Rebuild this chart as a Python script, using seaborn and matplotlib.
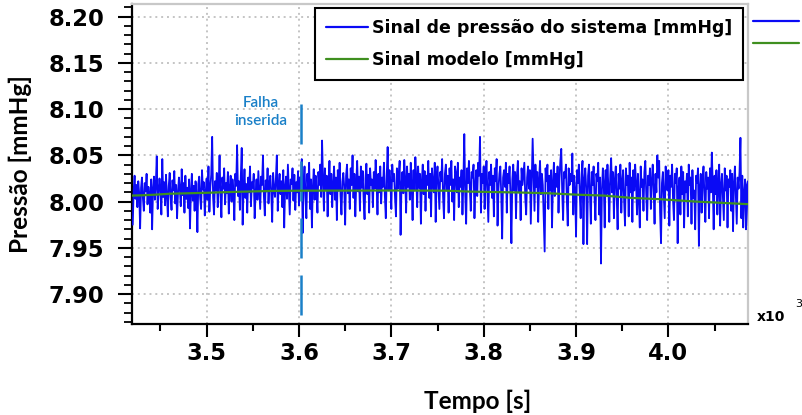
import numpy as np
import pandas as pd
import matplotlib
matplotlib.use("Agg")
import matplotlib.pyplot as plt
import seaborn as sns
from matplotlib.ticker import MultipleLocator, FormatStrFormatter
from matplotlib.lines import Line2D

# Measured pressure: deviation from 8.000 mmHg in thousandths of mmHg,
# sampled every 1 s starting at t = 3420 s
inicio_s = 3420.0
passo_s = 1.0
desvio_milesimos = [
    -25, 12, 28, 3, 18, -6, 22, 9, -29, 15, 26, 4, -10, 20, 11, 30, -3, 16, 7, -12,
    24, -30, 14, 27, 2, 19, 49, -8, 10, 25, 13, -14, 46, 5, 21, -4, 29, 8, -16, 17,
    31, 6, -9, 23, 12, 33, -2, 18, -18, 9, 26, 14, -5, 35, 7, 20, -12, 28, 3, 15,
    -7, 24, -29, 11, 30, 1, 17, -10, 22, 8, -33, 19, 27, 4, -8, 34, 13, 21, -15, 10,
    25, 2, 38, -11, 16, 29, 70, 5, -14, 22, 12, 31, -6, 18, 50, 8, -17, 26, 14, 36,
    -3, 20, 9, 32, -13, 15, 28, 0, 24, 11, -20, 30, 17, 61, 6, 22, -9, 27, 58, -25,
    13, 35, 4, 19, -12, 26, 10, 38, -5, 21, 15, 30, -18, 8, 24, 2, 33, 12, -8, 27,
    18, 50, 6, -15, 23, 11, 36, -2, 20, 28, 9, -22, 31, 14, 5, 25, 50, -10, 17, 30,
    8, 22, -6, 34, -28, 16, 27, 3, 40, 12, -14, 24, 19, 36, 1, 29, -9, 21, 10, 33,
    -4, 26, 14, 46, -34, 20, 38, 7, -18, 30, 12, 42, -8, 24, -28, 16, 35, 2, 28, 11,
    -12, 32, 18, 40, 5, 66, 24, -10, 36, 13, 28, -16, 21, 44, 8, 30, -6, 19, 38, 2,
    26, -20, 34, 12, 42, 6, -14, 22, 31, 16, -25, 28, 40, 9, 24, -8, 36, 18, 50, 4,
    30, -16, 20, 44, 11, 27, -10, 38, 15, 33, 2, -19, 25, 41, 8, 29, -12, 36, 18, 24,
    -6, 32, 14, 45, 21, -14, 30, 10, 38, -2, 26, 16, 42, 6, -18, 28, 59, 12, 34, 20,
    -8, 40, 22, 30, 4, -16, 36, 14, 27, 44, -36, 18, 32, 9, 45, 24, -12, 38, 16, 30,
    2, 42, 20, -20, 34, 12, 48, 26, -6, 38, 15, 30, -24, 22, 40, 8, 33, -10, 28, 18,
    44, 4, 30, -16, 36, 20, 10, 42, -22, 26, 38, 14, -8, 32, 22, 46, 6, -18, 30, 40,
    12, 28, -12, 36, 18, 44, 0, 24, -20, 38, 30, 10, 42, -6, 26, 16, 34, -14, 22, 73,
    8, -24, 36, 20, 44, 14, -10, 32, 26, 40, -18, 18, 34, 6, 42, 28, 70, -12, 30, 20,
    38, -8, 24, 44, 12, -22, 32, 18, 40, 4, 28, -16, 36, 22, 46, -26, 14, 30, 38, 8,
    -40, 26, 34, 16, 42, -12, 30, 20, 38, 6, -45, 24, 40, 12, 32, -18, 28, 44, 10, 22,
    -20, 36, 18, 30, 42, 4, -14, 26, 38, 14, 34, -24, 20, 68, 28, -10, 40, 16, 32, -22,
    24, 44, 8, 30, 18, -16, -54, 36, 22, 40, -8, 28, 12, 34, -28, 20, 42, 6, 30, 16,
    38, -12, 24, 44, 57, 10, -20, 32, 26, 40, 2, -26, 36, 18, 30, 22, 52, -14, 28, 12,
    -38, 34, 20, 40, 8, -18, 30, 44, -46, 24, 36, 14, -46, 28, 40, 10, -24, 32, 18, 38,
    4, -20, 30, 22, 42, -14, 26, -67, 12, 36, 20, -28, 34, 8, 40, 16, -22, 28, 47, 10,
    32, -18, 24, 38, 6, -30, 30, 14, 40, -12, 22, 34, 2, -26, 36, 18, 28, -16, 42, 10,
    26, -22, 34, 12, 40, 20, -14, 30, 4, -28, 38, 16, 24, -10, 32, 44, 8, -20, 28, 18,
    36, -8, 22, 40, 14, -24, 30, 10, 50, 26, 44, -12, -45, 20, 32, 6, -18, 38, 24, 12,
    34, -26, 28, 16, 40, 2, -20, 30, 20, 36, -45, 14, 26, -14, 38, 8, 32, -28, 22, 10,
    30, -16, 40, 18, 26, -24, 34, 4, 12, -30, 28, 20, 36, -48, 16, 30, -12, 24, 38, 6,
    -22, 32, 14, 26, -18, 36, 10, 53, 20, -30, 28, 8, 34, -14, 22, 40, -26, 18, 30, 4,
    -20, 36, 12, 28, -28, 24, 16, 34, -10, 30, -32, 20, 38, 6, -24, 26, 14, 32, 69, -18,
    28, -28, 10, 24, -30, 18, 22, -26,
]

# Model signal breakpoints
tempo_modelo_s = [3419.2, 3430, 3445, 3460, 3480, 3500, 3530, 3570, 3600, 3700,
                  3760, 3785, 3840, 3870, 3900, 3930, 3960, 3990, 4030, 4086.5]
pressao_modelo = [8.0065, 8.0068, 8.0075, 8.0085, 8.0090, 8.0095, 8.0105, 8.0115,
                  8.0118, 8.0120, 8.0118, 8.0108, 8.0098, 8.0090, 8.0075, 8.0065,
                  8.0040, 8.0026, 8.0000, 7.9972]

# Inserted fault marker
tempo_falha_s = 3602.0
falha_topo = 8.106
falha_base = 7.868
texto_falha = "Falha\ninserida"

rotulo_sinal = "Sinal de pressão do sistema [mmHg]"
rotulo_modelo = "Sinal modelo [mmHg]"
rotulo_x = "Tempo [s]"
rotulo_y = "Pressão [mmHg]"

azul = "#0a0af5"
verde = "#3f8f1f"
azul_falha = "#1a80c8"

t_sinal = (inicio_s + passo_s * np.arange(len(desvio_milesimos))) / 1000.0
p_sinal = 8.0 + np.array(desvio_milesimos) / 1000.0
df_sinal = pd.DataFrame({"t": t_sinal, "p": p_sinal})
df_modelo = pd.DataFrame({"t": np.array(tempo_modelo_s) / 1000.0, "p": pressao_modelo})

sns.set_theme(style="white")
plt.rcParams["font.family"] = ["DejaVu Sans"]

W, H = 803, 415
fig = plt.figure(figsize=(W / 100, H / 100), dpi=100)
L, R, B, T = 132, 748.3, 324, 4
ax = fig.add_axes([L / W, 1 - B / H, (R - L) / W, (B - T) / H])

sns.lineplot(data=df_sinal, x="t", y="p", ax=ax, color=azul, lw=1.3,
             estimator=None, sort=False, zorder=3)
ax.plot([tempo_falha_s / 1000.0] * 2, [falha_topo, falha_base], color=azul_falha,
        lw=1.8, linestyle=(0, (16, 6.8)), zorder=4)
sns.lineplot(data=df_modelo, x="t", y="p", ax=ax, color=verde, lw=1.6,
             estimator=None, sort=False, zorder=5)

ax.set_xlim(3.4192, 4.0865)
ax.set_ylim(7.8676, 8.2137)

ax.xaxis.set_major_locator(MultipleLocator(0.1))
ax.xaxis.set_minor_locator(MultipleLocator(0.05))
ax.xaxis.set_major_formatter(FormatStrFormatter("%.1f"))
ax.yaxis.set_major_locator(MultipleLocator(0.05))
ax.yaxis.set_minor_locator(MultipleLocator(0.01))
ax.yaxis.set_major_formatter(FormatStrFormatter("%.2f"))

ax.grid(True, which="major", color="#c4c4c4", lw=1.4, linestyle=(0, (1, 2)))
ax.set_axisbelow(True)

for s in ("left", "bottom"):
    ax.spines[s].set_color("black")
    ax.spines[s].set_linewidth(1.6)
for s in ("top", "right"):
    ax.spines[s].set_color("#c8c8c8")
    ax.spines[s].set_linewidth(1.6)

ax.tick_params(axis="both", which="major", direction="out", color="black",
               width=1.5, labelsize=16.3, labelcolor="black")
ax.tick_params(axis="x", which="major", length=9.4, pad=3.5, bottom=True)
ax.tick_params(axis="x", which="minor", length=5, width=1.5, bottom=True, color="black")
ax.tick_params(axis="y", which="major", length=10, pad=10, left=True)
ax.tick_params(axis="y", which="minor", length=5.5, width=1.3, left=True, color="black")
for lab in ax.get_xticklabels() + ax.get_yticklabels():
    lab.set_fontweight("bold")

lbl_font = dict(family=["Lato", "DejaVu Sans"], weight="bold", size=17.5, color="black")
ax.set_xlabel(rotulo_x, **lbl_font)
ax.set_ylabel(rotulo_y, **lbl_font)
ax.xaxis.set_label_coords((477.5 - L) / (R - L), -0.205)
ax.yaxis.set_label_coords(-0.163, 0.5)

ax.text(3.5585, 8.097, texto_falha, ha="center", va="center", color=azul_falha,
        fontsize=11, family=["Lato", "DejaVu Sans"], weight="semibold",
        linespacing=1.3, zorder=6)

# Main legend
h_sinal = Line2D([], [], color=azul, lw=1.6)
h_modelo = Line2D([], [], color=verde, lw=1.6)
leg = ax.legend([h_sinal, h_modelo], [rotulo_sinal, rotulo_modelo],
                loc="upper left", bbox_to_anchor=(315 / W, 1 - 8 / H),
                bbox_transform=fig.transFigure, borderaxespad=0, frameon=True,
                fancybox=False, framealpha=1, edgecolor="black",
                handlelength=2.46, handletextpad=0.2, borderpad=0.62,
                labelspacing=0.82, prop=dict(family="DejaVu Sans", weight="bold", size=12.5))
leg.get_frame().set_linewidth(1.5)
for t in leg.get_texts():
    t.set_color("black")
leg.set_zorder(10)
ax.add_artist(leg)

# Line keys repeated beside the plot area
leg2 = ax.legend([Line2D([], [], color=azul, lw=1.6), Line2D([], [], color=verde, lw=1.6)],
                 ["", ""], loc="upper left", bbox_to_anchor=(753 / W, 1 - 15 / H),
                 bbox_transform=fig.transFigure, borderaxespad=0, frameon=False,
                 handlelength=3.3, handletextpad=0, borderpad=0, labelspacing=0.55,
                 prop=dict(size=10))

fig.text(757 / W, 1 - 317 / H, "x10", ha="left", va="center", fontsize=10,
         fontweight="bold", family="DejaVu Sans", color="black")
fig.text(795 / W, 1 - 304 / H, "3", ha="left", va="center", fontsize=8,
         family="DejaVu Sans", color="black")

fig.savefig("out.png", dpi=100, facecolor="white")
